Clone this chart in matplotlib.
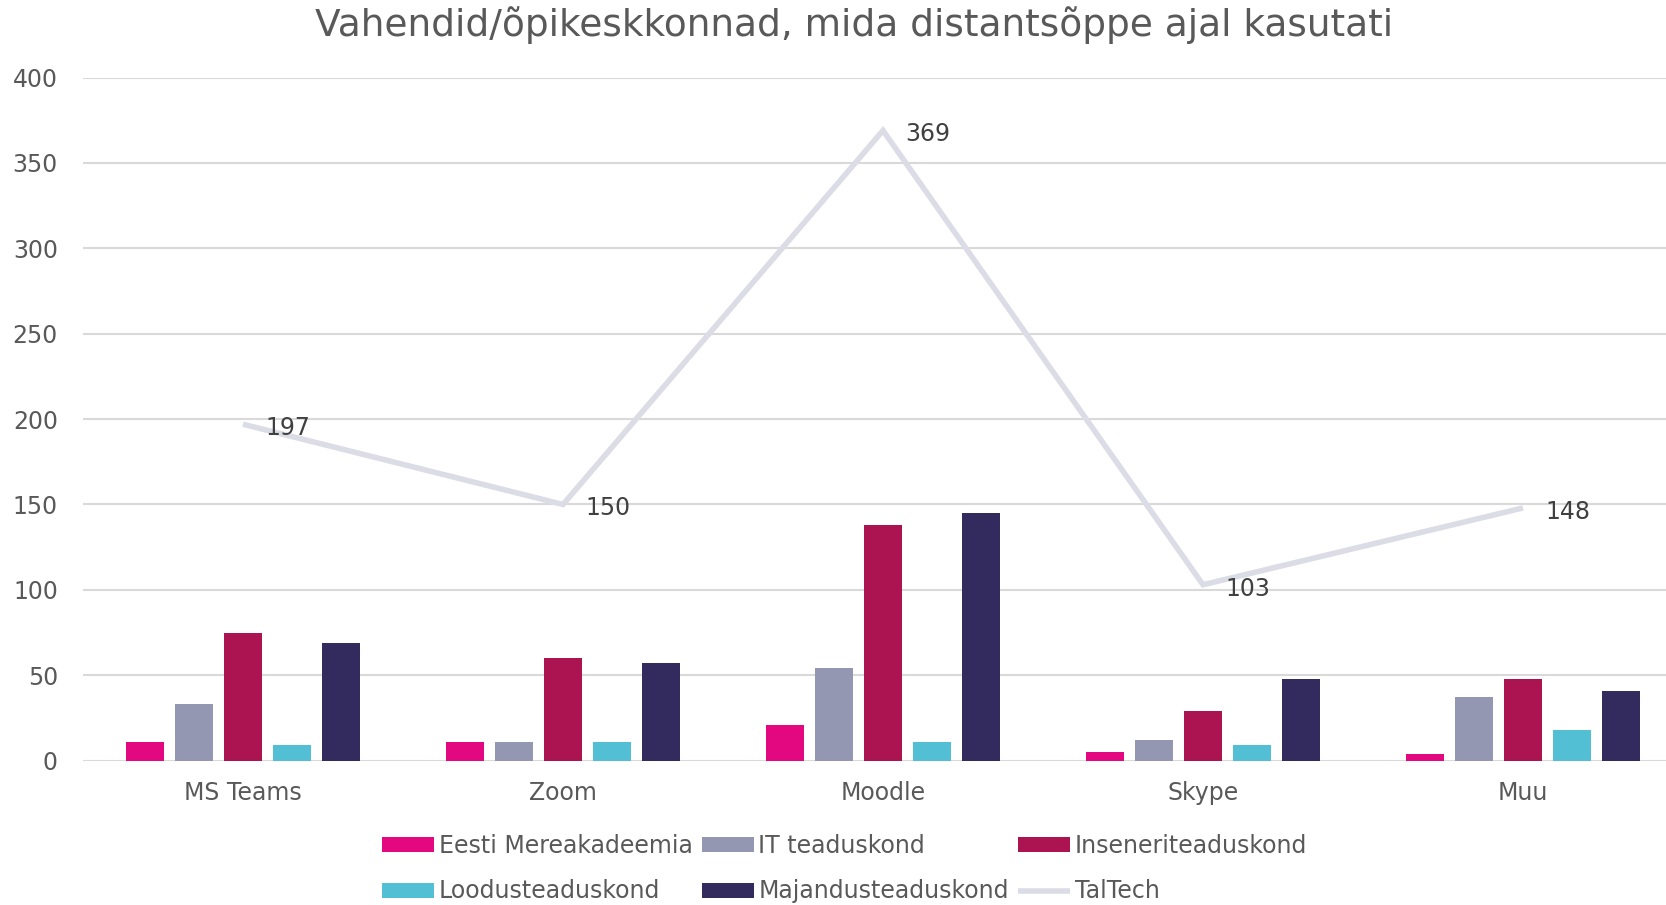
import matplotlib.pyplot as plt
import numpy as np

categories = ["MS Teams", "Zoom", "Moodle", "Skype", "Muu"]
series_names = ["Eesti Mereakadeemia", "IT teaduskond", "Inseneriteaduskond",
                "Loodusteaduskond", "Majandusteaduskond"]
eesti = [11, 11, 21, 5, 4]
it = [33, 11, 54, 12, 37]
insener = [75, 60, 138, 29, 48]
loodus = [9, 11, 11, 9, 18]
majandus = [69, 57, 145, 48, 41]
taltech = [197, 150, 369, 103, 148]
y_ticks = [0, 50, 100, 150, 200, 250, 300, 350, 400]

colors = ["#E3087F", "#9497B2", "#AB1451", "#52BFD4", "#332A5E"]
line_color = "#DCDCE6"
text_color = "#595959"

plt.rcParams["font.family"] = "DejaVu Sans"

fig = plt.figure(figsize=(16.66, 9.05), dpi=100)
fig.patch.set_facecolor("white")
ax = fig.add_axes([0.0498, 0.1595, 0.9604, 0.7548])

x = np.arange(len(categories))
pitch = 0.153
width = 0.121
handles = []
for i, (name, vals) in enumerate(zip(series_names, [eesti, it, insener, loodus, majandus])):
    b = ax.bar(x + (i - 2) * pitch, vals, width, color=colors[i], label=name,
               linewidth=0, zorder=2)
    handles.append(b)

line, = ax.plot(x, taltech, color=line_color, lw=4, label="TalTech", zorder=3,
                solid_joinstyle="miter", solid_capstyle="butt")
for xi, v in zip(x, taltech):
    ax.annotate(str(v), (xi, v), xytext=(22, -4), textcoords="offset pixels",
                ha="left", va="center", fontsize=17, color="#404040")

ax.set_xlim(-0.5, len(categories) - 0.5)
ax.set_ylim(0, 400)
ax.set_yticks(y_ticks)
ax.set_xticks(x)
ax.set_xticklabels(categories)
ax.yaxis.grid(True, color="#D9D9D9", linewidth=1.5, zorder=0)
ax.set_axisbelow(True)
for s in ax.spines.values():
    s.set_visible(False)
ax.tick_params(axis="y", length=0, pad=18, labelsize=17, labelcolor=text_color)
ax.tick_params(axis="x", length=0, pad=15, labelsize=17, labelcolor=text_color)

fig.text(0.5126, 0.972, "Vahendid/õpikeskkonnad, mida distantsõppe ajal kasutati",
         ha="center", va="center", fontsize=27, color=text_color)

order = [handles[0], handles[3], handles[1], handles[4], handles[2], line]
labels = [h.get_label() for h in order]
fig.legend(order, labels, loc="center", bbox_to_anchor=(0.507, 0.040), ncol=3,
           frameon=False, fontsize=17, labelcolor=text_color, handlelength=2.2,
           handleheight=0.6, handletextpad=0.2, columnspacing=0.4, labelspacing=0.9)

fig.savefig("out.png", dpi=100)
